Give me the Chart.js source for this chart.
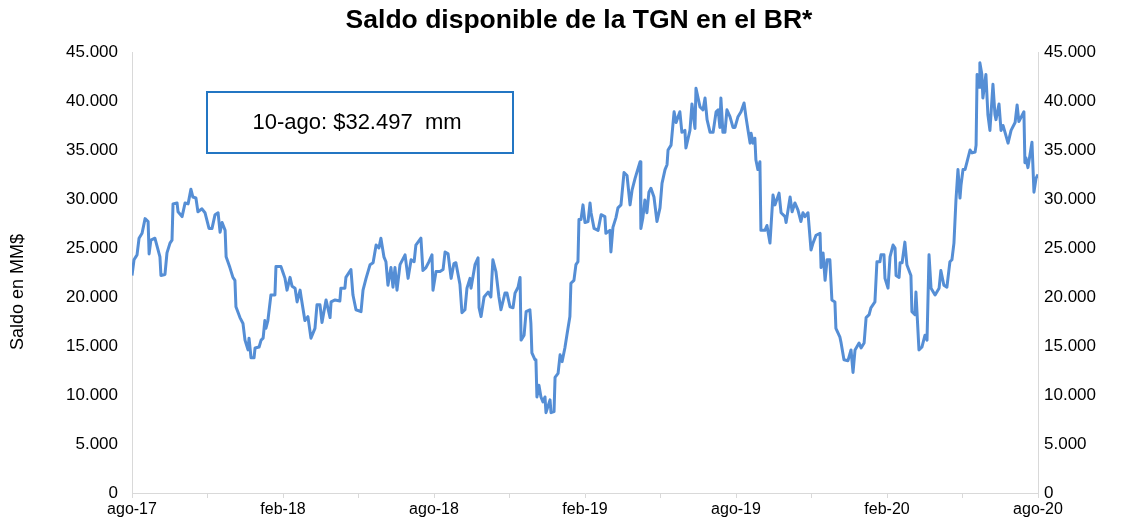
<!DOCTYPE html>
<html lang="es">
<head>
    <meta charset="UTF-8">
    <title>Saldo disponible de la TGN en el BR</title>
    <script src="https://cdn.jsdelivr.net/npm/chart.js"></script>
    <style>
        html, body { margin: 0; padding: 0; background: #fff; }
        #contenedor { width: 1125px; height: 522px; }
    </style>
</head>
<body>
<div id="contenedor"><canvas id="grafico"></canvas></div>
<script>
    // meses desde ago-17 (fecha de cada observación) y saldo en MM$
    const mes = [
        0.00, 0.08, 0.20, 0.28, 0.40, 0.52, 0.64, 0.68, 0.75, 0.91, 1.11, 1.15, 1.31, 1.39, 1.51, 1.59,
        1.63, 1.79, 1.83, 1.99, 2.11, 2.23, 2.34, 2.42, 2.54, 2.62, 2.78, 2.90, 3.06, 3.18, 3.30, 3.42,
        3.50, 3.58, 3.70, 3.74, 3.81, 3.89, 4.01, 4.09, 4.13, 4.29, 4.41, 4.49, 4.61, 4.65, 4.73, 4.85,
        4.89, 5.05, 5.13, 5.21, 5.28, 5.32, 5.40, 5.52, 5.68, 5.72, 5.92, 6.00, 6.08, 6.16, 6.28, 6.36,
        6.48, 6.56, 6.68, 6.72, 6.87, 6.99, 7.11, 7.27, 7.35, 7.47, 7.55, 7.71, 7.87, 7.91, 8.07, 8.26,
        8.30, 8.46, 8.50, 8.70, 8.78, 8.90, 9.10, 9.18, 9.30, 9.46, 9.58, 9.70, 9.81, 9.89, 10.01, 10.09,
        10.17, 10.29, 10.37, 10.45, 10.53, 10.65, 10.85, 10.97, 11.09, 11.21, 11.28, 11.48, 11.56, 11.68, 11.80, 11.92,
        11.96, 12.08, 12.24, 12.36, 12.44, 12.56, 12.68, 12.79, 12.87, 13.03, 13.11, 13.23, 13.31, 13.43, 13.47, 13.63,
        13.75, 13.79, 13.87, 13.99, 14.15, 14.26, 14.34, 14.46, 14.58, 14.66, 14.82, 14.90, 15.02, 15.14, 15.22, 15.34,
        15.42, 15.46, 15.58, 15.66, 15.81, 15.85, 15.89, 16.01, 16.05, 16.09, 16.17, 16.25, 16.33, 16.41, 16.45, 16.61,
        16.65, 16.77, 16.81, 16.93, 17.01, 17.09, 17.20, 17.28, 17.40, 17.44, 17.56, 17.64, 17.72, 17.76, 17.84, 17.92,
        18.00, 18.12, 18.20, 18.24, 18.36, 18.52, 18.64, 18.79, 18.83, 18.99, 19.03, 19.11, 19.23, 19.31, 19.43, 19.55,
        19.67, 19.79, 19.87, 19.99, 20.07, 20.19, 20.22, 20.30, 20.38, 20.46, 20.54, 20.62, 20.74, 20.86, 20.98, 21.06,
        21.18, 21.26, 21.30, 21.42, 21.54, 21.62, 21.77, 21.85, 21.97, 22.01, 22.17, 22.25, 22.37, 22.41, 22.57, 22.69,
        22.77, 22.85, 22.97, 23.09, 23.21, 23.29, 23.36, 23.40, 23.48, 23.56, 23.64, 23.76, 23.88, 23.96, 24.08, 24.20,
        24.32, 24.40, 24.48, 24.56, 24.60, 24.68, 24.75, 24.79, 24.87, 24.95, 24.99, 25.15, 25.23, 25.35, 25.47, 25.55,
        25.71, 25.79, 25.95, 25.99, 26.15, 26.23, 26.34, 26.46, 26.58, 26.66, 26.74, 26.86, 26.98, 27.06, 27.18, 27.34,
        27.38, 27.46, 27.54, 27.62, 27.73, 27.81, 27.93, 27.97, 28.13, 28.17, 28.29, 28.45, 28.57, 28.65, 28.73, 28.89,
        28.97, 29.09, 29.17, 29.29, 29.36, 29.44, 29.52, 29.60, 29.72, 29.76, 29.88, 29.92, 30.04, 30.12, 30.24, 30.32,
        30.36, 30.48, 30.52, 30.60, 30.71, 30.79, 30.95, 30.99, 31.11, 31.15, 31.27, 31.39, 31.51, 31.59, 31.67, 31.75,
        31.91, 32.07, 32.14, 32.26, 32.38, 32.50, 32.58, 32.66, 32.74, 32.82, 32.90, 32.94, 33.02, 33.10, 33.18, 33.30,
        33.38, 33.50, 33.54, 33.58, 33.66, 33.69, 33.77, 33.81, 33.93, 34.01, 34.09, 34.21, 34.29, 34.33, 34.45, 34.53,
        34.61, 34.69, 34.81, 34.93, 35.09, 35.17, 35.24, 35.44, 35.48, 35.52, 35.60, 35.68, 35.76, 35.84, 35.92, 36.00
    ];
    const saldo = [
        22200, 23800, 24300, 26000, 26500, 28000, 27700, 24400, 25800, 26000, 24100, 22200, 22300, 24500, 25500, 25800,
        29500, 29600, 28700, 28200, 29600, 29500, 31000, 30200, 30100, 28700, 29000, 28600, 27000, 27000, 28400, 28600,
        26600, 27600, 26800, 24100, 23600, 23000, 22000, 21700, 19000, 17900, 17300, 15600, 14600, 15800, 13800, 13800,
        14800, 14900, 15600, 15800, 17600, 16800, 17600, 20200, 20200, 23100, 23100, 22500, 21900, 20700, 22000, 21100,
        20900, 19500, 20700, 20000, 17600, 18000, 15800, 16800, 19200, 19200, 17400, 19700, 17900, 19500, 19700, 19600,
        20900, 20900, 22000, 22800, 20200, 18700, 18500, 20700, 21900, 23300, 23500, 25300, 25000, 26000, 24100, 23600,
        21200, 23000, 21000, 23000, 20700, 23300, 24300, 21900, 23800, 23600, 25300, 26000, 22700, 23000, 23600, 24300,
        20700, 22600, 22600, 22800, 24600, 24400, 21900, 23400, 23500, 21300, 18400, 18700, 20900, 21900, 20900, 23300,
        24000, 18900, 18000, 20000, 20500, 20000, 23800, 22600, 20000, 18700, 20400, 20400, 19000, 18900, 20400, 21000,
        22000, 15600, 16100, 18500, 18700, 17300, 14300, 13600, 13600, 9800, 11000, 9800, 9300, 9800, 8200, 9500,
        8200, 8300, 11800, 12200, 14100, 13400, 14800, 16100, 18000, 21400, 21700, 23300, 23600, 27900, 27900, 29400,
        27600, 27700, 29600, 28600, 27000, 26800, 28400, 28200, 26500, 26800, 24600, 27100, 28100, 29100, 29400, 32700,
        32400, 29400, 30900, 32100, 32800, 33800, 27000, 28100, 29900, 28600, 30700, 31100, 30200, 27700, 29100, 31600,
        33000, 33500, 35000, 35500, 38900, 37800, 38900, 36800, 37000, 35200, 37000, 39700, 37200, 41300, 39400, 39100,
        40300, 38100, 36800, 36800, 38900, 39100, 37300, 40300, 36800, 36800, 39100, 38400, 37300, 37300, 38400, 38900,
        39800, 38300, 37000, 35700, 36700, 35700, 36200, 34000, 33000, 33800, 26800, 26800, 27300, 25500, 30400, 29400,
        30600, 28600, 28200, 27600, 30200, 28700, 29600, 28900, 27700, 28600, 28200, 28600, 24800, 25500, 26300, 26500,
        23000, 24500, 21700, 23800, 23800, 19700, 19500, 16800, 15900, 15400, 13600, 13500, 14600, 12300, 14600, 15300,
        14800, 15300, 17900, 18200, 18900, 19200, 19500, 23600, 23600, 24300, 24300, 21900, 20900, 24100, 25300, 25000,
        22200, 22000, 23500, 23500, 25600, 23300, 22200, 18500, 18200, 20500, 14600, 14900, 16100, 15600, 24300, 20900,
        20200, 20900, 22700, 21200, 21000, 23600, 23800, 25500, 29900, 33000, 30100, 31400, 33000, 33000, 33800, 35000,
        34700, 34800, 35500, 42700, 41400, 43900, 42700, 40300, 42700, 38600, 37000, 41700, 38600, 38100, 39700, 37000,
        37500, 36800, 35700, 37000, 37800, 39600, 37900, 38900, 33700, 34200, 33200, 34500, 35800, 30700, 32100, 32497
    ];
    const etiquetasX = ['ago-17', 'feb-18', 'ago-18', 'feb-19', 'ago-19', 'feb-20', 'ago-20'];
    const titulo = 'Saldo disponible de la TGN en el BR*';
    const tituloEje = 'Saldo en MM$';
    const nota = '10-ago: $32.497  mm';

    const fuente = '"Liberation Sans", Arial, sans-serif';

    function miles(v) {
        return String(v).replace(/\B(?=(\d{3})+(?!\d))/g, '.');
    }

    // título, nombre del eje y recuadro con el último dato
    const textos = {
        id: 'textos',
        afterDraw(chart) {
            const ctx = chart.ctx;
            ctx.save();
            ctx.fillStyle = '#000';
            ctx.textAlign = 'center';
            ctx.textBaseline = 'middle';

            ctx.font = 'bold 26.5px ' + fuente;
            ctx.fillText(titulo, 579, 21);

            ctx.save();
            ctx.translate(18, 292);
            ctx.rotate(-Math.PI / 2);
            ctx.font = '18px ' + fuente;
            ctx.fillText(tituloEje, 0, 0);
            ctx.restore();

            ctx.strokeStyle = '#2376c3';
            ctx.lineWidth = 2;
            ctx.strokeRect(207, 92, 306, 61);
            ctx.font = '22px ' + fuente;
            ctx.fillText(nota, 357, 123);
            ctx.restore();
        }
    };

    const puntos = mes.map((m, i) => ({ x: m, y: saldo[i] }));

    const ejeY = (lado) => ({
        type: 'linear',
        position: lado,
        min: 0,
        max: 45000,
        ticks: {
            stepSize: 5000,
            color: '#000',
            font: { family: fuente, size: 17 },
            padding: lado === 'left' ? 14 : 6,
            callback: (v) => miles(v)
        },
        grid: { display: true, drawOnChartArea: false, drawTicks: false },
        border: { color: '#d9d9d9', width: 1 }
    });

    const escalaIzq = ejeY('left');
    escalaIzq.afterFit = (s) => { s.width = 132; };

    const escalaDer = ejeY('right');
    escalaDer.afterFit = (s) => { s.width = 87; };

    new Chart(document.getElementById('grafico'), {
        type: 'line',
        data: {
            datasets: [{
                data: puntos,
                borderColor: '#558ed5',
                borderWidth: 3,
                pointRadius: 0,
                tension: 0,
                borderJoinStyle: 'round',
                yAxisID: 'y'
            }, {
                data: [],
                yAxisID: 'y2'
            }]
        },
        options: {
            responsive: true,
            maintainAspectRatio: false,
            animation: false,
            layout: { padding: { left: 0, right: 0, top: 52, bottom: 0 } },
            plugins: {
                legend: { display: false },
                tooltip: { enabled: false },
                title: { display: false }
            },
            scales: {
                x: {
                    type: 'linear',
                    min: 0,
                    max: 36,
                    ticks: {
                        stepSize: 3,
                        autoSkip: false,
                        maxRotation: 0,
                        color: '#000',
                        font: { family: fuente, size: 16 },
                        padding: 2,
                        callback: (v) => (v % 6 === 0 ? etiquetasX[v / 6] : '')
                    },
                    grid: { display: true, drawOnChartArea: false, tickLength: 5, color: '#d9d9d9' },
                    border: { color: '#d9d9d9', width: 1 },
                    afterFit: (s) => { s.height = 29; }
                },
                y: escalaIzq,
                y2: escalaDer
            }
        },
        plugins: [textos]
    });
</script>
</body>
</html>
